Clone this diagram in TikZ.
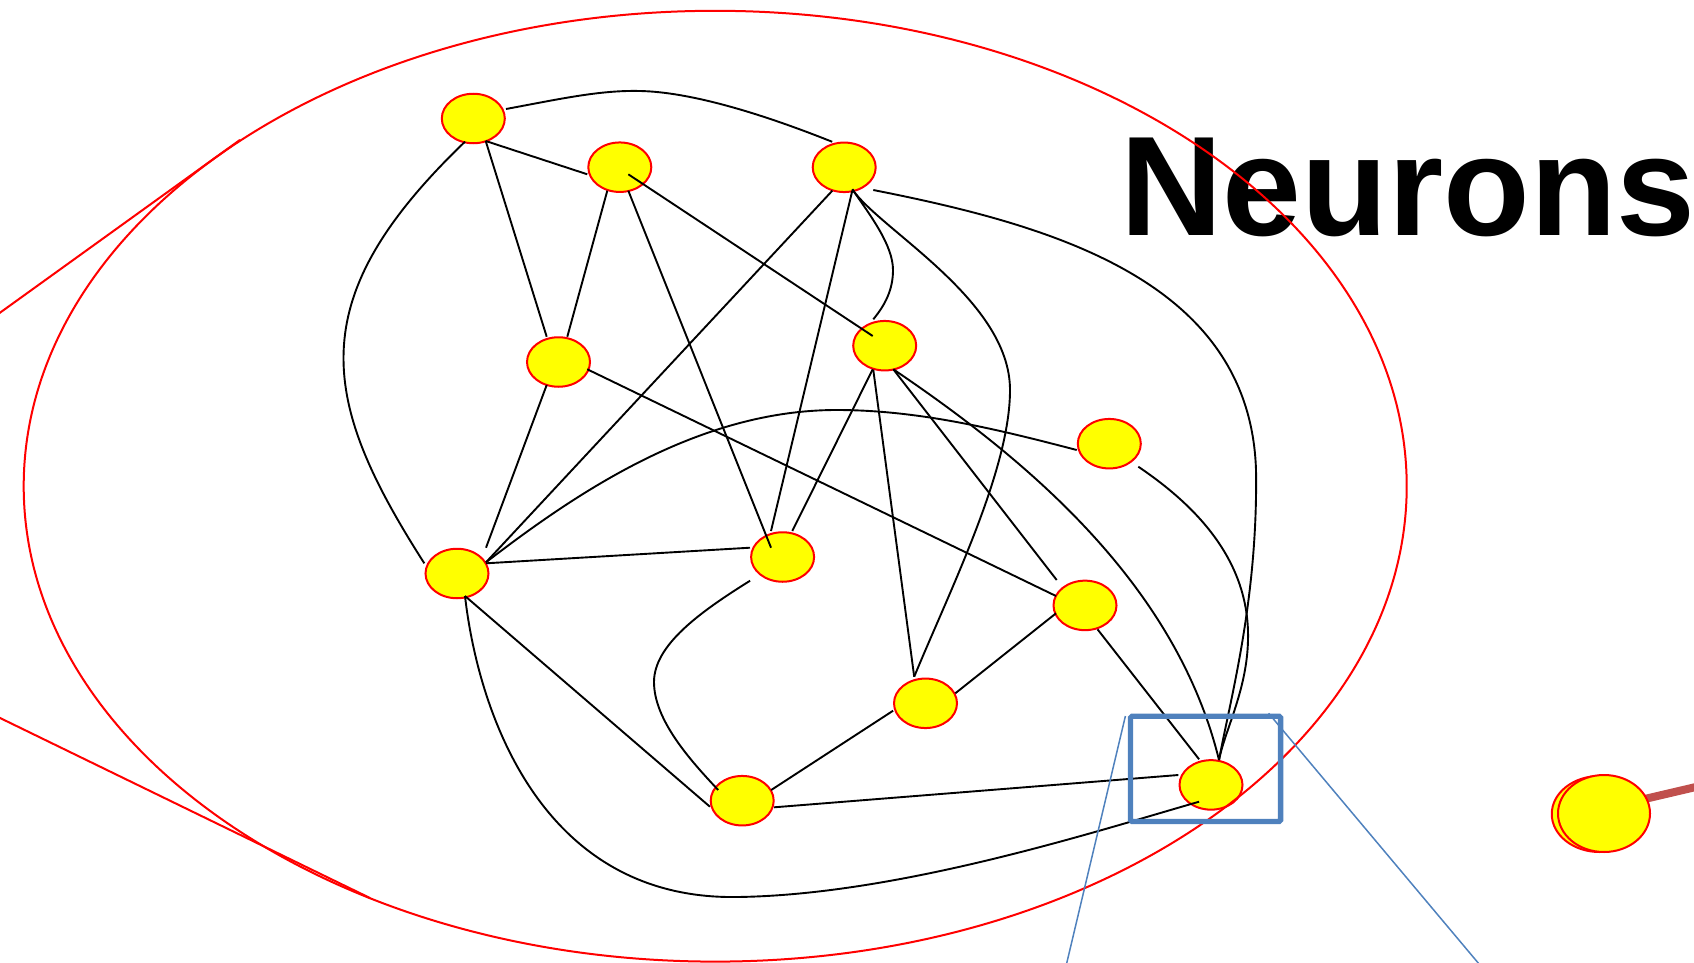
\documentclass[tikz,border=0pt]{standalone}
\usepackage{fontspec}
\setmainfont{Liberation Sans}
\usetikzlibrary{shapes.geometric,calc,backgrounds}
\definecolor{nred}{RGB}{255,0,0}
\definecolor{nyel}{RGB}{255,255,0}
\definecolor{oblue}{RGB}{79,129,189}
\definecolor{obrown}{RGB}{192,80,77}
\begin{document}
\begin{tikzpicture}[x=1pt,y=-1pt,
  neuron/.style={ellipse,draw=nred,fill=nyel,line width=2pt,minimum width=63pt,minimum height=49.5pt,inner sep=0pt},
  edge/.style={black,line width=1.9pt},
  redline/.style={nred,line width=2pt},
  zoomline/.style={oblue,line width=1.5pt}]
\useasboundingbox (0,0) rectangle (1694,963);
\begin{scope}
\clip (0,0) rectangle (1694,963);
% neurons
\node[neuron] (A) at (473.3,118.5) {};
\node[neuron] (B) at (619.8,167.2) {};
\node[neuron] (C) at (844.2,167.3) {};
\node[neuron] (D) at (558.5,362) {};
\node[neuron] (E) at (884.7,345.7) {};
\node[neuron] (F) at (1109.3,443.7) {};
\node[neuron] (G) at (457,573.5) {};
\node[neuron] (H) at (782.6,557) {};
\node[neuron] (I) at (1085,605.4) {};
\node[neuron] (J) at (925.5,703.3) {};
\node[neuron] (K) at (742.2,800.7) {};
\node[neuron] (L) at (1211,784.9) {};
% edges
\draw[edge] ($(A)+(32.7,-9.5)$) .. controls (560,99) and (600,90) .. (640,91) .. controls (690,92) and (760,113) .. ($(C)+(-12,-25.5)$);
\draw[edge] ($(A)+(12.4,22.5)$) -- ($(B)+(-32.5,7.1)$);
\draw[edge] ($(A)+(12.4,22.5)$) -- ($(D)+(-11.8,-25.3)$);
\draw[edge] ($(A)+(-8.3,23.2)$) .. controls (300,300) and (320,400) .. ($(G)+(-32.7,-10.2)$);
\draw[edge] ($(B)+(-12.5,23.5)$) -- ($(D)+(8.8,-25.3)$);
\draw[edge] ($(B)+(8.5,23.5)$) -- ($(H)+(-11.6,-9.3)$);
\draw[edge] ($(B)+(8.5,7.1)$) -- ($(E)+(-12,-9.7)$);
\draw[edge] ($(C)+(-11.9,23.4)$) -- ($(G)+(29,-11.2)$);
\draw[edge] ($(C)+(8.1,23.4)$) -- ($(H)+(-11.6,-26)$);
\draw[edge] ($(C)+(8.1,22)$) .. controls (870,215) and (893,245) .. (893,270) .. controls (893,290) and (885,305) .. ($(E)+(-11.4,-26.4)$);
\draw[edge] ($(C)+(8.1,22)$) .. controls (880,230) and (1010,300) .. (1010,390) .. controls (1010,470) and (950,590) .. ($(J)+(-11.3,-26.6)$);
\draw[edge] ($(C)+(29.1,22.7)$) .. controls (1050,225) and (1250,280) .. (1256,470) .. controls (1258,600) and (1230,700) .. ($(L)+(8,-24.9)$);
\draw[edge] ($(D)+(-11.8,23)$) -- ($(G)+(29,-25.8)$);
\draw[edge] ($(D)+(28.8,7.3)$) -- ($(I)+(-29,-9.4)$);
\draw[edge] ($(E)+(-12,23.6)$) -- ($(H)+(9.7,-26)$);
\draw[edge] ($(E)+(-11.4,24.3)$) -- ($(J)+(-11.3,-26.6)$);
\draw[edge] ($(E)+(8.6,23.6)$) -- ($(I)+(-28.3,-25.4)$);
\draw[edge] ($(E)+(8.6,23.6)$) .. controls (1020,455) and (1175,580) .. ($(L)+(8,-24.9)$);
\draw[edge] ($(F)+(-32.6,6.3)$) .. controls (1000,430) and (920,410) .. (836.7,410) .. controls (700,410) and (580,490) .. ($(G)+(29,-11.2)$);
\draw[edge] ($(F)+(29,23)$) .. controls (1195,505) and (1250,560) .. (1248,640) .. controls (1247,690) and (1225,730) .. ($(L)+(8,-24.9)$);
\draw[edge] ($(G)+(29,-10.2)$) -- ($(H)+(-32.6,-9.3)$);
\draw[edge] ($(G)+(8,22.5)$) -- ($(K)+(-32.3,6)$);
\draw[edge] ($(G)+(8,22.5)$) .. controls (478,710) and (540,900) .. (737,897) .. controls (900,895) and (1100,830) .. ($(L)+(-11.9,16.8)$);
\draw[edge] ($(H)+(-32.5,23.7)$) .. controls (700,612) and (654,645) .. (654,682) .. controls (654,720) and (690,760) .. ($(K)+(-24,-10.7)$);
\draw[edge] ($(I)+(-29,7.9)$) -- ($(J)+(29.8,-10)$);
\draw[edge] ($(I)+(12.5,23.9)$) -- ($(L)+(-11.9,-25.6)$);
\draw[edge] ($(J)+(-32.4,7.4)$) -- ($(K)+(29,-10.7)$);
\draw[edge] ($(K)+(31.9,6.6)$) -- ($(L)+(-32.6,-9.9)$);
% title
\node[anchor=base west,inner sep=0pt,font=\fontsize{141.8pt}{141.8pt}\selectfont\bfseries] (title) at (1120.4,235.5) {Neurons};
% red outline and tangents
\draw[redline] (715.2,486.2) ellipse [x radius=691.5, y radius=475.4];
\coordinate (ta1) at (-10,319.9);
\coordinate (ta2) at (240,139.9);
\coordinate (tb1) at (-10,713.1);
\coordinate (tb2) at (370,898);
\draw[redline] (ta1) -- (ta2);
\draw[redline] (tb1) -- (tb2);
% zoom box
\node[draw=oblue,line width=5.3pt,rounded corners=1.5pt,minimum width=150.1pt,minimum height=105.2pt,inner sep=0pt] (zoom) at (1205.55,768.9) {};
\coordinate (za) at (1125.4,716);
\coordinate (zb) at (1062,983);
\coordinate (zc) at (1268.6,713.3);
\coordinate (zd) at (1495,983);
\draw[zoomline] (za) -- (zb);
\draw[zoomline] (zc) -- (zd);
% far neuron
\node[neuron,minimum width=95.5pt,minimum height=76pt] (Mb) at (1599.5,814) {};
\node[neuron,minimum width=92pt,minimum height=77pt] (M) at (1604,813.5) {};
\coordinate (axon) at (1730,779);
\begin{scope}[on background layer]
\draw[obrown,line width=8pt] ($(M)+(0,-5)$) -- (axon);
\end{scope}
\end{scope}
\end{tikzpicture}
\end{document}
